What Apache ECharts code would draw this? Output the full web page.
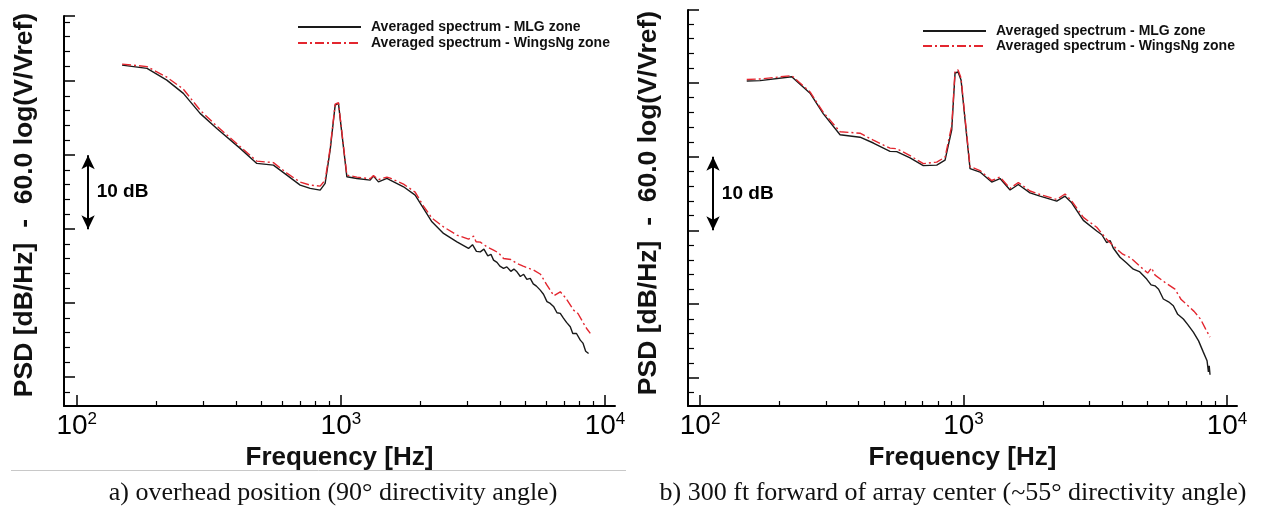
<!DOCTYPE html>
<html><head><meta charset="utf-8">
<script src="https://cdn.jsdelivr.net/npm/echarts@6/dist/echarts.min.js"></script>
<style>html,body{margin:0;padding:0;background:#fff}#c{width:1261px;height:510px}</style>
</head><body><div id="c"></div>
<script>
// ---------- data ----------
const seriesNames = ['Averaged spectrum - MLG zone', 'Averaged spectrum - WingsNg zone'];
const xMajorTicks = [100, 1000, 10000];
const xMinorTicks = [200, 300, 400, 500, 600, 700, 800, 900, 2000, 3000, 4000, 5000, 6000, 7000, 8000, 9000];
const yMajorTicks = [20, 30, 40, 50, 60];
const yMinorTicks = [18, 22, 24, 26, 28, 32, 34, 36, 38, 42, 44, 46, 48, 52, 54, 56, 58, 62, 64, 66, 68];

// panel a) overhead position
const aMlgFreq = [148.5, 184.6, 219.3, 253.3, 293.1, 339.1, 415.6, 480.7, 555.5, 624.6, 701.5, 765.2, 834.9, 871.9, 910.9, 951.6, 979.3, 1008.8, 1053.7, 1150, 1291, 1329, 1388, 1494, 1538, 1727, 1911, 2055, 2212, 2447, 2751, 3043, 3150, 3260, 3372, 3480, 3600, 3700, 3785, 3900, 4000, 4129, 4250, 4400, 4520, 4642, 4780, 4920, 5060, 5212, 5350, 5500, 5687, 5850, 6030, 6206, 6400, 6580, 6772, 6950, 7150, 7389, 7550, 7800, 8062, 8250, 8450, 8667];
const aMlgPsd = [62.16, 61.72, 60.14, 58.34, 55.64, 53.61, 50.91, 48.88, 48.65, 47.30, 45.95, 45.50, 45.27, 46.18, 50.68, 56.76, 56.99, 52.93, 47.07, 46.85, 46.62, 47.16, 46.39, 46.85, 46.62, 45.72, 44.59, 42.80, 40.99, 39.42, 38.28, 37.39, 37.9, 37.0, 36.93, 37.3, 36.4, 36.6, 35.81, 35.5, 35.0, 34.69, 34.9, 34.3, 34.6, 34.23, 33.6, 33.9, 33.2, 33.34, 32.6, 32.3, 31.76, 31.2, 30.2, 29.96, 29.5, 28.7, 28.61, 28.0, 27.4, 26.80, 25.9, 25.9, 25.0, 24.6, 23.5, 23.2];
const aWingsFreq = [148.5, 184.6, 219.3, 253.3, 293.1, 339.1, 415.6, 480.7, 555.5, 624.6, 701.5, 765.2, 834.9, 871.9, 910.9, 951.6, 979.3, 1008.8, 1053.7, 1150, 1291, 1329, 1388, 1494, 1538, 1727, 1911, 2055, 2212, 2447, 2751, 3043, 3179, 3250, 3372, 3573, 3785, 3950, 4129, 4400, 4642, 4900, 5364, 5700, 6030, 6400, 6772, 7100, 7605, 7900, 8297, 8550, 8796];
const aWingsPsd = [62.3, 61.96, 60.54, 58.92, 56.08, 53.92, 51.15, 49.19, 48.99, 47.57, 46.35, 45.95, 45.81, 46.62, 50.95, 56.9, 57.1, 53.1, 47.3, 47.03, 46.82, 47.23, 46.69, 47.03, 46.89, 46.08, 45.0, 43.11, 41.49, 40.31, 39.19, 38.65, 39.05, 38.3, 38.24, 37.61, 37.16, 36.8, 36.04, 35.9, 35.36, 35.0, 34.46, 33.9, 32.43, 31.0, 31.53, 30.7, 29.05, 28.6, 27.26, 26.5, 25.91];

// panel b) 300 ft forward
const bMlgFreq = [150.4, 169, 222.8, 261.5, 293.8, 339.9, 404.7, 454.7, 526, 557.8, 626.6, 703.7, 791.2, 850.9, 902.1, 928.5, 953.2, 978.5, 1013.2, 1058.5, 1155, 1279, 1376, 1502, 1614, 1788, 1951, 2258, 2428, 2574, 2849, 3203, 3350, 3495, 3600, 3700, 3926, 4150, 4411, 4650, 4957, 5150, 5330, 5500, 5732, 6000, 6256, 6500, 6828, 7100, 7451, 7800, 8131, 8400, 8500, 8560, 8620];
const bMlgPsd = [60.27, 60.31, 60.85, 58.61, 55.81, 52.97, 52.64, 51.85, 50.72, 50.68, 49.82, 48.78, 48.85, 49.53, 53.65, 61.35, 61.49, 60.41, 55.0, 48.38, 47.91, 46.55, 47.03, 45.47, 46.22, 45.09, 44.64, 43.96, 44.64, 43.74, 41.35, 39.91, 39.4, 38.34, 38.6, 37.6, 36.35, 35.6, 34.73, 34.4, 33.38, 32.6, 32.47, 32.0, 30.68, 30.3, 29.77, 28.6, 27.97, 27.2, 26.18, 25.0, 23.47, 22.3, 20.8, 21.6, 20.4];
const bWingsFreq = [150.4, 169, 222.8, 261.5, 293.8, 339.9, 404.7, 454.7, 526, 557.8, 626.6, 703.7, 791.2, 850.9, 902.1, 928.5, 953.2, 978.5, 1013.2, 1058.5, 1155, 1279, 1376, 1502, 1614, 1788, 1951, 2258, 2428, 2574, 2849, 3203, 3495, 3825, 4021, 4300, 4664, 5000, 5170, 5335, 5815, 6346, 6700, 7112, 7500, 7928, 8300, 8620];
const bWingsPsd = [60.47, 60.54, 60.99, 58.78, 56.01, 53.38, 53.18, 52.23, 51.15, 51.08, 50.14, 49.05, 49.26, 49.93, 54.19, 61.62, 61.76, 60.68, 55.27, 48.65, 48.11, 46.76, 47.23, 45.68, 46.49, 45.34, 44.86, 44.19, 44.93, 43.99, 41.76, 40.41, 38.78, 37.43, 36.76, 36.3, 35.14, 34.2, 34.9, 33.92, 32.93, 32.03, 30.6, 29.77, 29.0, 27.97, 26.6, 25.5];

// axis extents (log x, dB y)
const aX = [89.5, 10911], bX = [90.0, 10913];
const aY = [16.1, 68.8], bY = [16.16, 69.9];
// 10 dB scale arrow: [frequency of arrow, upper dB, lower dB, label frequency]
const aArrow = [110.4, 50, 40, 119];
const bArrow = [112.0, 50, 40, 121];
const captions = ['a) overhead position (90\u00b0 directivity angle)', 'b) 300 ft forward of array center (~55\u00b0 directivity angle)'];

// ---------- chart ----------
const SANS = 'Liberation Sans, Arial, sans-serif';
const SERIF = 'Liberation Serif, Times New Roman, serif';
const zip = (f, v) => f.map((x, i) => [x, v[i]]);

function xAxes(gi, ext) {
  return [{
    type: 'log', logBase: 10, gridIndex: gi, position: 'bottom', min: ext[0], max: ext[1],
    axisLine: { show: true, onZero: false, lineStyle: { color: '#000', width: 2 } },
    axisTick: { show: true, inside: true, length: 11, customValues: xMajorTicks, lineStyle: { color: '#000', width: 1.5 } },
    axisLabel: {
      show: true, customValues: xMajorTicks, margin: 5,
      formatter: v => '{b|10}{s|' + Math.round(Math.log10(v)) + '}',
      rich: {
        b: { fontFamily: SANS, fontSize: 28, color: '#000', lineHeight: 30 },
        s: { fontFamily: SANS, fontSize: 17, color: '#000', lineHeight: 17, verticalAlign: 'top' }
      }
    },
    splitLine: { show: false }, minorTick: { show: false },
    name: 'Frequency [Hz]', nameLocation: 'middle', nameGap: 35,
    nameTextStyle: { fontFamily: SANS, fontSize: 26, fontWeight: 'bold', color: '#111' }
  }, {
    type: 'log', logBase: 10, gridIndex: gi, position: 'bottom', min: ext[0], max: ext[1],
    axisLine: { show: false, onZero: false },
    axisTick: { show: true, inside: true, length: 5, customValues: xMinorTicks, lineStyle: { color: '#000', width: 1.2 } },
    axisLabel: { show: false }, splitLine: { show: false }
  }];
}
function yAxes(gi, ext, padL) {
  return [{
    type: 'value', gridIndex: gi, position: 'left', min: ext[0], max: ext[1],
    axisLine: { show: true, onZero: false, lineStyle: { color: '#000', width: 2 } },
    axisTick: { show: true, inside: true, length: 11, customValues: yMajorTicks.concat([ext[1]]), lineStyle: { color: '#000', width: 1.5 } },
    axisLabel: { show: false }, splitLine: { show: false },
    name: 'PSD [dB/Hz]  -  60.0 log(V/Vref)', nameLocation: 'middle', nameRotate: 90, nameGap: 26,
    nameTextStyle: { fontFamily: SANS, fontSize: 26.5, fontWeight: 'bold', color: '#111', padding: [0, 0, 0, padL] }
  }, {
    type: 'value', gridIndex: gi, position: 'left', min: ext[0], max: ext[1],
    axisLine: { show: false, onZero: false },
    axisTick: { show: true, inside: true, length: 6, customValues: yMinorTicks, lineStyle: { color: '#000', width: 1.2 } },
    axisLabel: { show: false }, splitLine: { show: false }
  }];
}
function legend(left, top, gap) {
  return {
    data: seriesNames, orient: 'vertical', left: left, top: top, padding: 0,
    itemWidth: 63, itemHeight: 12, itemGap: gap, selectedMode: false,
    itemStyle: { opacity: 0 },
    textStyle: { fontFamily: SANS, fontSize: 14, fontWeight: 'bold', color: '#111', padding: [0, 0, 0, 5] }
  };
}
function series(xi, mlgF, mlgV, wF, wV, arrow) {
  return [{
    name: seriesNames[0], type: 'line', xAxisIndex: xi, yAxisIndex: xi, data: zip(mlgF, mlgV),
    symbol: 'none', showSymbol: false, animation: false,
    lineStyle: { color: '#1a1a1a', width: 1.4 }, itemStyle: { color: '#1a1a1a' }, z: 3,
    markLine: {
      silent: true, animation: false, symbol: ['arrow', 'arrow'], symbolSize: [10, 14],
      lineStyle: { color: '#000', width: 2, type: 'solid' }, label: { show: false },
      data: [[{ coord: [arrow[0], arrow[1]] }, { coord: [arrow[0], arrow[2]] }]]
    },
    markPoint: {
      silent: true, animation: false, symbol: 'circle', symbolSize: 0,
      label: { show: true, position: 'right', distance: 0, formatter: '10 dB', fontFamily: SANS, fontSize: 19, fontWeight: 'bold', color: '#000' },
      data: [{ coord: [arrow[3], (arrow[1] + arrow[2]) / 2] }]
    }
  }, {
    name: seriesNames[1], type: 'line', xAxisIndex: xi, yAxisIndex: xi, data: zip(wF, wV),
    symbol: 'none', showSymbol: false, animation: false,
    lineStyle: { color: '#e3262f', width: 1.4, type: [9, 3, 2, 3] }, itemStyle: { color: '#e3262f' }, z: 4
  }];
}

const chart = echarts.init(document.getElementById('c'), null, { renderer: 'canvas' });
chart.setOption({
  backgroundColor: '#fff',
  animation: false,
  grid: [
    { left: 64, top: 16, width: 551, height: 390, containLabel: false },
    { left: 688, top: 10, width: 549, height: 396, containLabel: false }
  ],
  xAxis: xAxes(0, aX).concat(xAxes(1, bX)),
  yAxis: yAxes(0, aY, 12).concat(yAxes(1, bY, 10)),
  legend: [legend(297, 20, 2), legend(922, 24, 1)],
  series: series(0, aMlgFreq, aMlgPsd, aWingsFreq, aWingsPsd, aArrow)
    .concat(series(2, bMlgFreq, bMlgPsd, bWingsFreq, bWingsPsd, bArrow)),
  graphic: [
    { type: 'line', shape: { x1: 11, y1: 470.5, x2: 626, y2: 470.5 }, style: { stroke: '#c8c8c8', lineWidth: 1 }, silent: true },
    { type: 'text', x: 333, y: 493, style: { text: captions[0], font: '26px ' + SERIF, fill: '#111', textAlign: 'center', textVerticalAlign: 'middle' }, silent: true },
    { type: 'text', x: 953, y: 493, style: { text: captions[1], font: '26px ' + SERIF, fill: '#111', textAlign: 'center', textVerticalAlign: 'middle' }, silent: true }
  ]
});
</script></body></html>
